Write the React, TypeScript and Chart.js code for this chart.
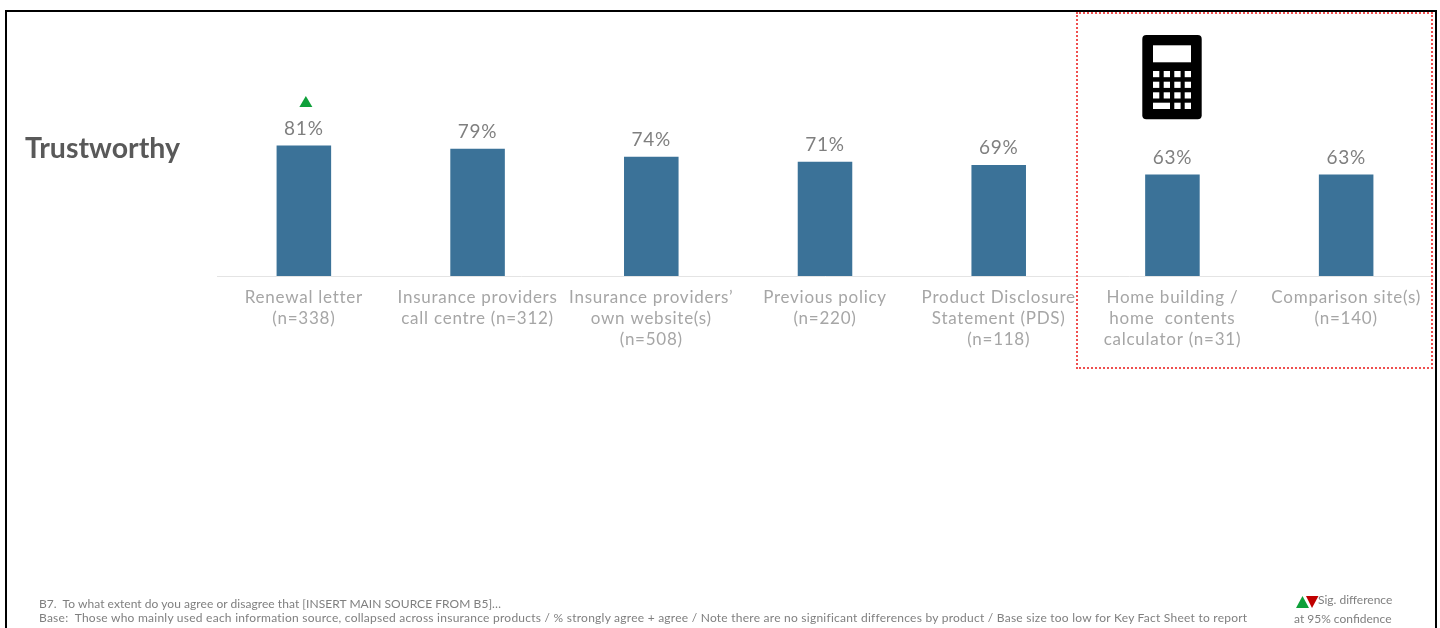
import React, { useEffect, useRef } from "react";
import { Chart, registerables } from "chart.js";

Chart.register(...registerables);

const categories: string[][] = [
  ["Renewal letter", "(n=338)"],
  ["Insurance providers", "call centre (n=312)"],
  ["Insurance providers’", "own website(s)", "(n=508)"],
  ["Previous policy", "(n=220)"],
  ["Product Disclosure", "Statement (PDS)", "(n=118)"],
  ["Home building /", "home  contents", "calculator (n=31)"],
  ["Comparison site(s)", "(n=140)"],
];
const values: number[] = [81, 79, 74, 71, 69, 63, 63];
const sigUp: boolean[] = [true, false, false, false, false, false, false];

const FONT = "Lato, 'Open Sans', sans-serif";
const BAR = "#3b7298";
const keyRows = [71, 81.7, 92.3];
const keyCols = [1153, 1163.7, 1174.3, 1184.7];

const labelPlugin = {
  id: "valueLabels",
  beforeDraw(chart: any) {
    (chart.ctx as any).letterSpacing = "0.75px";
  },
  afterDatasetsDraw(chart: any) {
    const { ctx } = chart;
    const meta = chart.getDatasetMeta(0);
    ctx.save();
    ctx.font = `19px ${FONT}`;
    ctx.fillStyle = "#7f7f7f";
    ctx.textAlign = "center";
    ctx.textBaseline = "middle";
    meta.data.forEach((bar: any, i: number) => {
      ctx.fillText(`${values[i]}%`, bar.x, bar.y - 17);
      if (sigUp[i]) {
        ctx.fillStyle = "#0fa03a";
        ctx.beginPath();
        ctx.moveTo(bar.x + 2, bar.y - 49.5);
        ctx.lineTo(bar.x + 8.5, bar.y - 38.5);
        ctx.lineTo(bar.x - 4.5, bar.y - 38.5);
        ctx.closePath();
        ctx.fill();
        ctx.fillStyle = "#7f7f7f";
      }
    });
    ctx.restore();
  },
};

const abs = (left: number, top: number, extra: React.CSSProperties = {}): React.CSSProperties => ({
  position: "absolute",
  left,
  top,
  whiteSpace: "pre",
  fontFamily: FONT,
  ...extra,
});

export default function App() {
  const ref = useRef<HTMLCanvasElement>(null);
  useEffect(() => {
    const chart = new Chart(ref.current!, {
      type: "bar",
      data: {
        labels: categories,
        datasets: [
          {
            data: values,
            backgroundColor: BAR,
            borderWidth: 0,
            barPercentage: 1,
            categoryPercentage: 0.314,
          },
        ],
      },
      options: {
        responsive: false,
        animation: false,
        layout: { padding: { left: 217, right: 7, top: 18.4, bottom: 0 } },
        plugins: { legend: { display: false }, tooltip: { enabled: false } },
        scales: {
          y: { display: false, min: 0, max: 160 },
          x: {
            grid: { display: false },
            border: { display: true, color: "#e4e4e4", width: 1 },
            afterFit(scale: any) {
              scale.height = 352;
            },
            ticks: {
              color: "#a6a6a6",
              font: { family: FONT, size: 17, lineHeight: 1.235 },
              padding: 3,
              autoSkip: false,
              maxRotation: 0,
              minRotation: 0,
            },
          },
        },
      },
      plugins: [labelPlugin],
    });
    return () => chart.destroy();
  }, []);

  return (
    <div style={{ position: "absolute", left: 0, top: 0, width: 1440, height: 628, overflow: "hidden", background: "#fff" }}>
      <canvas ref={ref} width={1440} height={628} style={{ position: "absolute", left: 0, top: 0, display: "block" }} />
      <div style={{ position: "absolute", left: 5, top: 10, width: 1428, height: 700, border: "2px solid #000" }} />
      <div style={{ position: "absolute", left: 1076, top: 12, width: 353, height: 353, border: "2px dotted #ef4f4f" }} />
      <div style={abs(25, 129, { fontSize: 28.5, lineHeight: "36px", fontWeight: 700, color: "#595959" })}>Trustworthy</div>
      <svg width={1440} height={628} style={{ position: "absolute", left: 0, top: 0 }}>
        <rect x={1142.3} y={35} width={59.4} height={84.3} rx={4} fill="#000" />
        <rect x={1153} y={45.3} width={38} height={17} fill="#fff" />
        {keyRows.map((y) =>
          keyCols.map((x) => <rect key={`${x}-${y}`} x={x} y={y} width={6.3} height={6.2} fill="#fff" />)
        )}
        <rect x={1153} y={102.7} width={17} height={6.3} fill="#fff" />
        <rect x={1174.3} y={102.7} width={6.3} height={6.3} fill="#fff" />
        <rect x={1184.7} y={102.7} width={6.3} height={6.3} fill="#fff" />
        <polygon points="1302.5,596 1309,608 1296,608" fill="#0fa03a" />
        <polygon points="1306,596 1318.5,596 1312,608" fill="#c00000" />
      </svg>
      <div style={abs(39, 597, { fontSize: 12, lineHeight: "14px", letterSpacing: 0.05, color: "#7f7f7f" })}>
        B7.  To what extent do you agree or disagree that [INSERT MAIN SOURCE FROM B5]…
      </div>
      <div style={abs(39, 611, { fontSize: 12, lineHeight: "14px", letterSpacing: 0.245, color: "#7f7f7f" })}>
        Base:  Those who mainly used each information source, collapsed across insurance products / % strongly agree + agree / Note there are no significant differences by product / Base size too low for Key Fact Sheet to report
      </div>
      <div style={abs(1318, 593, { fontSize: 12, lineHeight: "14px", color: "#7f7f7f" })}>Sig. difference</div>
      <div style={abs(1294, 612, { fontSize: 12, lineHeight: "14px", color: "#7f7f7f" })}>at 95% confidence</div>
    </div>
  );
}
